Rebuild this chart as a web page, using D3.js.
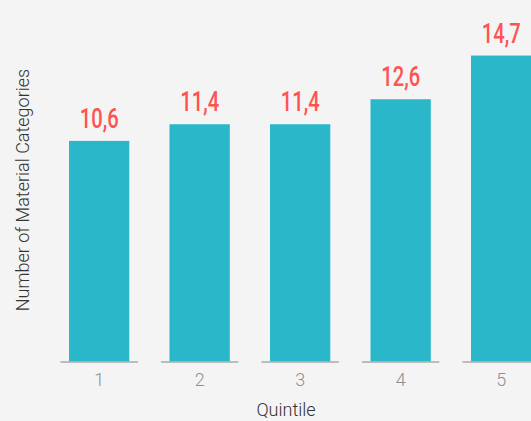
<!DOCTYPE html>
<html>
<head>
<meta charset="utf-8">
<script src="https://cdn.jsdelivr.net/npm/d3@7"></script>
<style>
  html, body { margin: 0; padding: 0; background: #f4f4f4; overflow: hidden; }
  svg { display: block; }
</style>
</head>
<body>
<div id="chart"></div>
<script>
const categories = ["1", "2", "3", "4", "5"];
const values = [10.6, 11.4, 11.4, 12.6, 14.7];
const valueLabels = ["10,6", "11,4", "11,4", "12,6", "14,7"];
const xTitle = "Quintile";
const yTitle = "Number of Material Categories";

const W = 531, H = 421;
const svg = d3.select("#chart").append("svg").attr("width", W).attr("height", H);
svg.append("rect").attr("width", W).attr("height", H).attr("fill", "#f4f4f4");

const x = d3.scaleBand().domain(categories).range([28.8, 571.5]).padding(0.4);
const y = d3.scaleLinear().domain([0, 16]).range([361.5, 28.5]);

// bars
svg.selectAll("rect.bar").data(values).join("rect")
  .attr("class", "bar")
  .attr("x", (d, i) => x(categories[i]))
  .attr("width", x.bandwidth())
  .attr("y", d => y(d))
  .attr("height", d => y(0) - y(d))
  .attr("fill", "#29b7c9");

// baseline segments per category
const segW = x.step() * 0.77;
svg.selectAll("line.base").data(categories).join("line")
  .attr("class", "base")
  .attr("x1", d => x(d) + x.bandwidth() / 2 - segW / 2)
  .attr("x2", d => x(d) + x.bandwidth() / 2 + segW / 2)
  .attr("y1", y(0) + 0.5).attr("y2", y(0) + 0.5)
  .attr("stroke", "#aaaaaa").attr("stroke-width", 1.5);

// tick labels
svg.selectAll("text.tick").data(categories).join("text")
  .attr("class", "tick")
  .attr("x", d => x(d) + x.bandwidth() / 2)
  .attr("y", 385.5)
  .attr("text-anchor", "middle")
  .attr("font-family", "Roboto")
  .attr("font-weight", 300)
  .attr("font-size", 18)
  .attr("fill", "#8f8f8f")
  .text(d => d);

// value labels
svg.selectAll("text.val").data(values).join("text")
  .attr("class", "val")
  .attr("transform", (d, i) => `translate(${x(categories[i]) + x.bandwidth() / 2},${y(d) - 13}) scale(0.72,1)`)
  .attr("text-anchor", "middle")
  .attr("font-family", "Roboto")
  .attr("font-weight", 500)
  .attr("font-size", 28)
  .attr("fill", "#ff5252")
  .text((d, i) => valueLabels[i]);

// axis titles
svg.append("text")
  .attr("x", 286).attr("y", 415.5)
  .attr("text-anchor", "middle")
  .attr("font-family", "Roboto").attr("font-weight", 300)
  .attr("font-size", 18).attr("fill", "#333")
  .text(xTitle);

svg.append("text")
  .attr("transform", "translate(28.5,190) rotate(-90)")
  .attr("text-anchor", "middle")
  .attr("font-family", "Roboto").attr("font-weight", 300)
  .attr("font-size", 18).attr("fill", "#333")
  .text(yTitle);
</script>
</body>
</html>
